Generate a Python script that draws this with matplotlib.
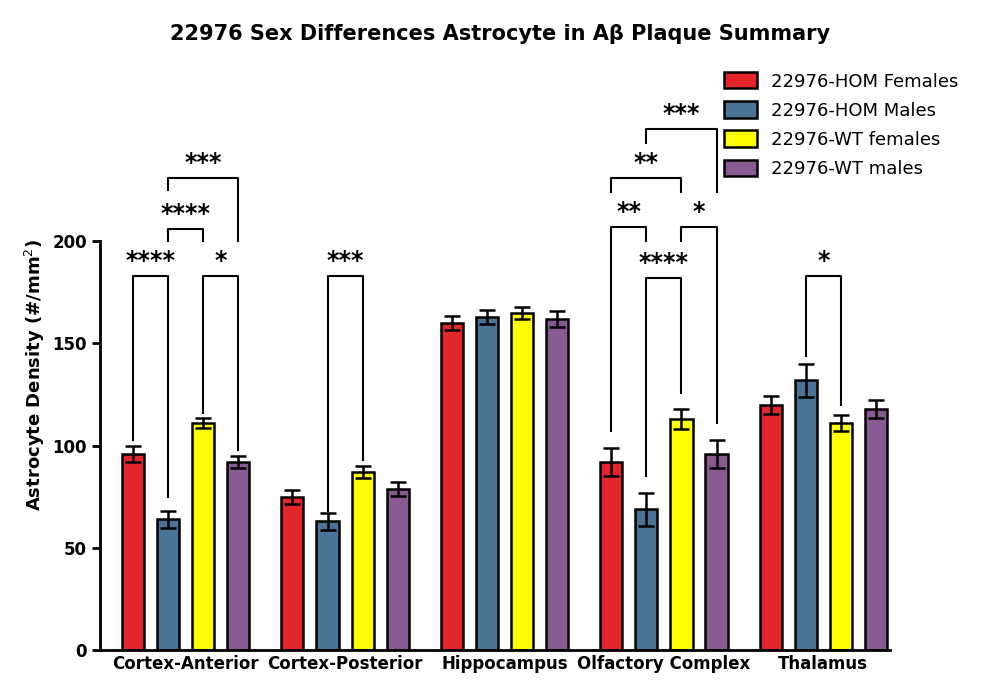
import numpy as np
import matplotlib.pyplot as plt

regions = ['Cortex-Anterior', 'Cortex-Posterior', 'Hippocampus', 'Olfactory Complex', 'Thalamus']
series = ['22976-HOM Females', '22976-HOM Males', '22976-WT females', '22976-WT males']
colors = ['#e3262b', '#4a7396', '#ffff00', '#875a92']

means = [
    [96, 64, 111, 92],
    [75, 63, 87, 79],
    [160, 163, 165, 162],
    [92, 69, 113, 96],
    [120, 132, 111, 118],
]
errs = [
    [4, 4, 2.5, 3],
    [3.5, 4, 3, 3.5],
    [3.5, 3.5, 3, 4],
    [7, 8, 5, 7],
    [4.5, 8, 4, 4.5],
]

# (group, bar a, bar b, height, left leg end, right leg end, label)
brackets = [
    (0, 0, 1, 183, 103, 75, '****'),
    (0, 1, 2, 206, 200, 200, '****'),
    (0, 1, 3, 231, 225, 200, '***'),
    (0, 2, 3, 183, 116, 98, '*'),
    (1, 1, 2, 183, 68, 93, '***'),
    (3, 0, 1, 207, 107, 200, '**'),
    (3, 2, 3, 207, 200, 111, '*'),
    (3, 1, 2, 182, 85, 126, '****'),
    (3, 0, 2, 231, 224, 224, '**'),
    (3, 1, 3, 255, 248, 224, '***'),
    (4, 1, 2, 183, 144, 120, '*'),
]

gap = 4.54
width = 0.63

fig = plt.figure(figsize=(10, 7), dpi=100)
ax = fig.add_axes([0.1, 0.071, 0.79, 0.786])

for g in range(len(regions)):
    for s in range(len(series)):
        x = g * gap + s
        ax.bar(x, means[g][s], width, color=colors[s], edgecolor='black', linewidth=1.8,
               label=series[s] if g == 0 else None, zorder=2)
        ax.errorbar(x, means[g][s], yerr=errs[g][s], color='black', capsize=6,
                    elinewidth=1.8, capthick=1.8, zorder=3)

for g, a, b, h, l1, l2, lab in brackets:
    xa, xb = g * gap + a, g * gap + b
    ax.plot([xa, xa, xb, xb], [l1, h, h, l2], color='black', lw=1.5, zorder=1)
    ax.text((xa + xb) / 2, h + 1.5, lab, ha='center', va='bottom', fontsize=17, fontweight='bold')

ax.set_xlim(-0.94, 4 * gap + 3.4)
ax.set_ylim(0, 269)
ax.set_yticks([0, 50, 100, 150, 200])
ax.spines['left'].set_bounds(0, 200)
for sp in ['top', 'right']:
    ax.spines[sp].set_visible(False)
for sp in ['left', 'bottom']:
    ax.spines[sp].set_linewidth(2)
ax.tick_params(width=2, length=6, labelsize=12)
for t in ax.get_yticklabels():
    t.set_fontweight('bold')
ax.set_xticks([g * gap + 1.5 for g in range(len(regions))])
ax.set_xticklabels(regions, fontweight='bold', fontsize=12)
ax.tick_params(axis='x', length=0)
ax.set_ylabel('Astrocyte Density (#/mm$^2$)', fontsize=13, fontweight='bold')

fig.legend(loc='upper right', bbox_to_anchor=(0.975, 0.92), frameon=False, fontsize=13,
           handlelength=1.8, handleheight=1.0, labelspacing=0.6)
fig.suptitle('22976 Sex Differences Astrocyte in Aβ Plaque Summary', y=0.965,
             fontsize=15, fontweight='bold')

plt.savefig('out.png')
